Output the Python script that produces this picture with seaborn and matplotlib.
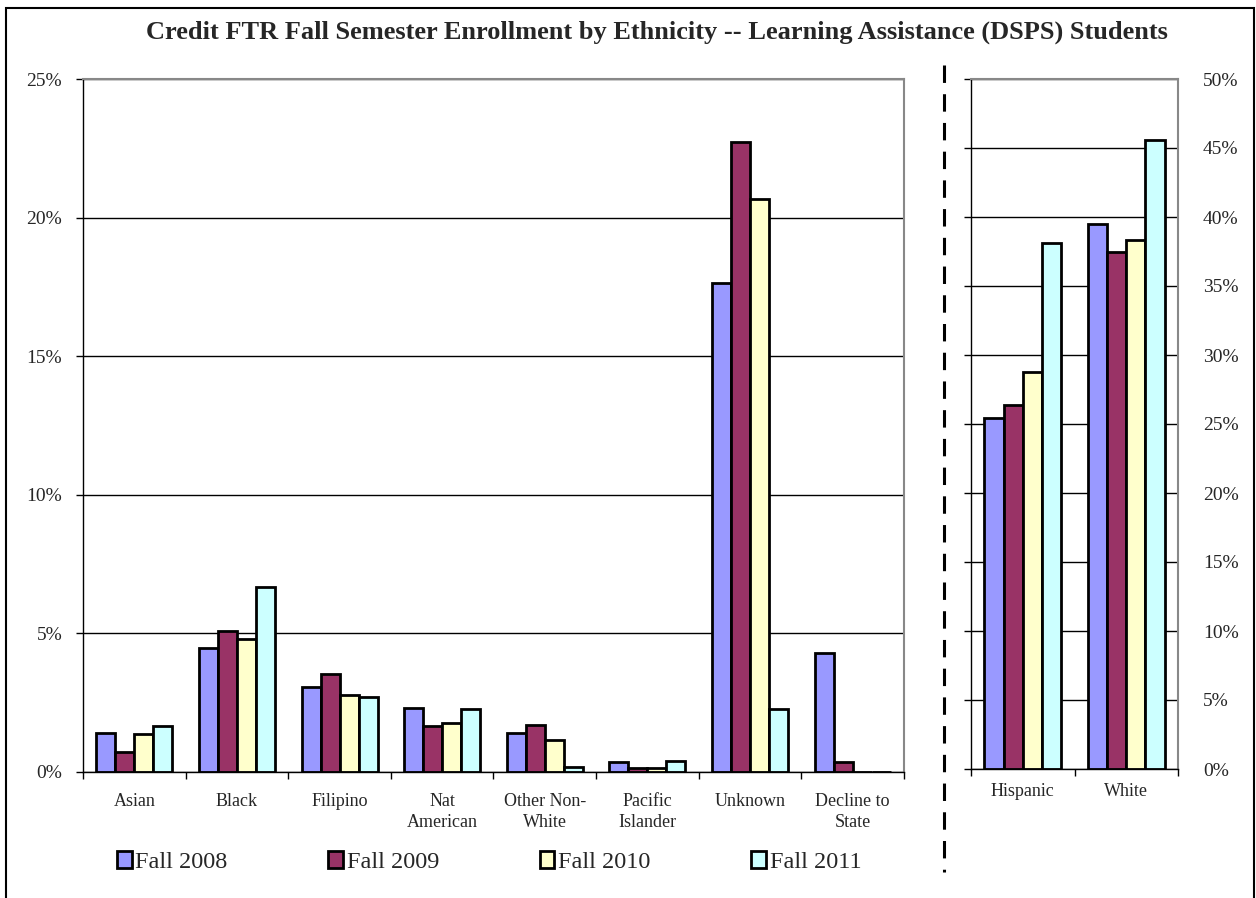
import pandas as pd
import seaborn as sns
import matplotlib.pyplot as plt
from matplotlib.lines import Line2D
from matplotlib.patches import Rectangle
from matplotlib.ticker import PercentFormatter, MultipleLocator, FixedLocator

# Data (percent of students)
years = ['Fall 2008', 'Fall 2009', 'Fall 2010', 'Fall 2011']
small_groups = ['Asian', 'Black', 'Filipino', 'Nat\nAmerican', 'Other Non-\nWhite',
                'Pacific\nIslander', 'Unknown', 'Decline to\nState']
small_2008 = [1.42, 4.49, 3.05, 2.32, 1.42, 0.35, 17.65, 4.31]
small_2009 = [0.73, 5.07, 3.55, 1.67, 1.69, 0.16, 22.72, 0.36]
small_2010 = [1.38, 4.79, 2.78, 1.78, 1.17, 0.16, 20.67, 0.0]
small_2011 = [1.65, 6.66, 2.71, 2.26, 0.18, 0.40, 2.27, 0.0]

big_groups = ['Hispanic', 'White']
big_2008 = [25.4, 39.5]
big_2009 = [26.4, 37.5]
big_2010 = [28.8, 38.3]
big_2011 = [38.1, 45.6]

colors = ['#9999FF', '#993366', '#FFFFCC', '#CCFFFF']


def long_table(groups, series):
    rows = []
    for year, vals in zip(years, series):
        for g, v in zip(groups, vals):
            rows.append({'group': g, 'year': year, 'pct': v})
    return pd.DataFrame(rows)


left_df = long_table(small_groups, [small_2008, small_2009, small_2010, small_2011])
right_df = long_table(big_groups, [big_2008, big_2009, big_2010, big_2011])

sns.set_style('white')
plt.rcParams['font.family'] = ['Liberation Serif', 'DejaVu Serif']

W, H = 1256, 898
fig = plt.figure(figsize=(W / 100, H / 100), dpi=100)
ax1 = fig.add_axes([83 / W, 1 - 772 / H, (904 - 83) / W, (772 - 79) / H])
ax2 = fig.add_axes([971 / W, 1 - 769 / H, (1178 - 971) / W, (769 - 79) / H])

for ax, df, groups, top in [(ax1, left_df, small_groups, 25), (ax2, right_df, big_groups, 50)]:
    sns.barplot(data=df, x='group', y='pct', hue='year', palette=colors,
                width=0.74, gap=0, edgecolor='black', linewidth=2,
                saturation=1, legend=(ax is ax1), ax=ax)
    ax.set_ylim(0, top)
    ax.set_xlim(-0.5, len(groups) - 0.5)
    ax.yaxis.set_major_locator(MultipleLocator(5))
    ax.yaxis.set_major_formatter(PercentFormatter(decimals=0))
    ax.grid(axis='y', color='black', linewidth=1)
    ax.set_axisbelow(True)
    ax.set_xlabel('')
    ax.set_ylabel('')
    for s in ['top', 'right']:
        ax.spines[s].set_color('#888888')
        ax.spines[s].set_linewidth(1.5)
    for s in ['left', 'bottom']:
        ax.spines[s].set_color('black')
        ax.spines[s].set_linewidth(1)
    ax.xaxis.set_minor_locator(FixedLocator([i - 0.5 for i in range(len(groups) + 1)]))
    ax.tick_params(axis='x', which='minor', length=5, width=1, color='black', direction='out', bottom=True)

ax1.tick_params(axis='x', which='major', length=0, labelsize=13, pad=15)
for lab in ax1.get_xticklabels():
    lab.set_linespacing(1.35)
ax2.tick_params(axis='x', which='major', length=0, labelsize=13, pad=10)

ax1.tick_params(axis='y', left=True, length=5, width=1, color='black', direction='out', labelsize=14, pad=10)
ax2.tick_params(axis='y', left=True, labelleft=False, right=False, labelright=True,
                length=5, width=1, color='black', direction='out', labelsize=14, pad=13)

handles, labels = ax1.get_legend_handles_labels()
ax1.get_legend().remove()
fig.legend(handles, labels, loc='center left', bbox_to_anchor=(117 / W, 1 - 862 / H), ncol=4,
           frameon=False, fontsize=17.5, handlelength=0.6, handleheight=0.7, handletextpad=0.15,
           columnspacing=4.15, borderaxespad=0, borderpad=0)

fig.text(657 / W, 1 - 32 / H, 'Credit FTR Fall Semester Enrollment by Ethnicity -- Learning Assistance (DSPS) Students',
         ha='center', va='center', fontsize=19, fontweight='bold')

fig.add_artist(Line2D([944 / W, 944 / W], [1 - 65 / H, 1 - 872 / H], color='black',
                      linewidth=2.2, linestyle=(0, (5.7, 3.7))))
fig.add_artist(Rectangle((6 / W, -0.01), (1254 - 6) / W, 1.01 - 8 / H, transform=fig.transFigure,
                         fill=False, edgecolor='black', linewidth=1.5))

fig.savefig('out.png', dpi=100)
